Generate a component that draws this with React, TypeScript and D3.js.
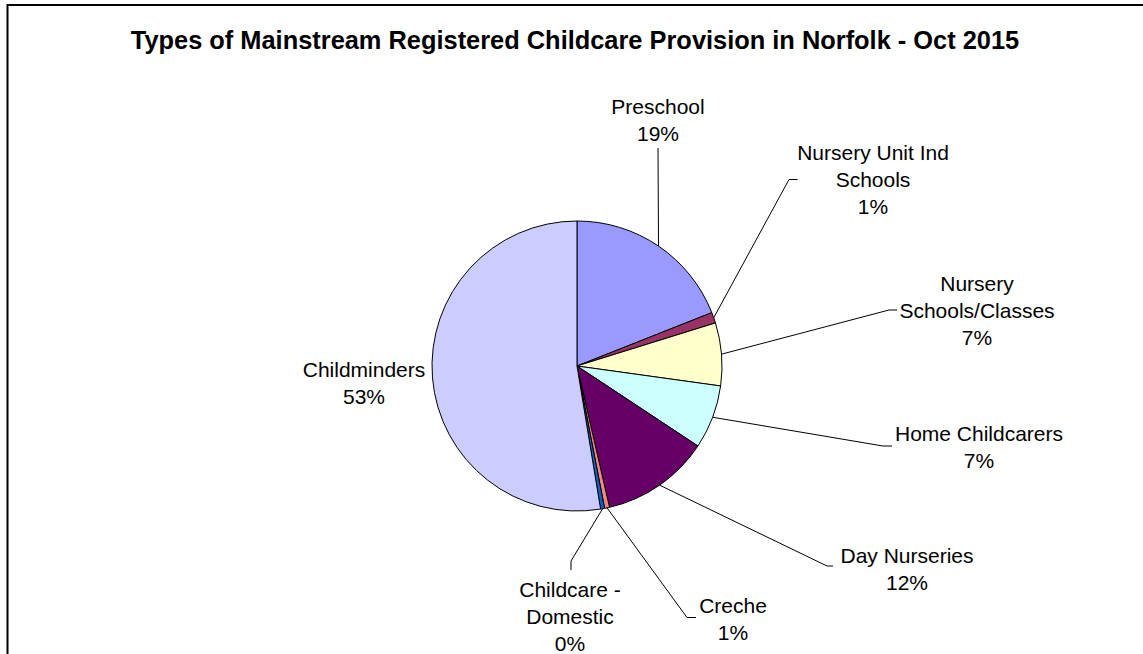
import React from "react";
import * as d3 from "d3";

// ---- data ----
const categories = [
  "Preschool",
  "Nursery Unit Ind Schools",
  "Nursery Schools/Classes",
  "Home Childcarers",
  "Day Nurseries",
  "Creche",
  "Childcare - Domestic",
  "Childminders",
];
const sharePercent = [19.0, 1.2, 7.0, 7.1, 12.1, 0.55, 0.45, 52.6];
const sliceColors = ["#9999FF", "#993366", "#FFFFCC", "#CCFFFF", "#660066", "#FF8080", "#0066CC", "#CCCCFF"];
const titleText = "Types of Mainstream Registered Childcare Provision in Norfolk - Oct 2015";

// ---- layout (positions only) ----
// words per label line, label centre x, first baseline, elbow point, tick end
const labelLayout = [
  { words: [1], x: 658, y: 114, elbow: [658, 148], tick: [658, 148] },
  { words: [3, 1], x: 873, y: 160, elbow: [789, 179.5], tick: [797.5, 179.5] },
  { words: [1, 1], x: 977, y: 291, elbow: [889, 310], tick: [897, 310] },
  { words: [2], x: 979, y: 441, elbow: [883, 446], tick: [892, 446] },
  { words: [2], x: 907, y: 563, elbow: [827, 566], tick: [833, 566] },
  { words: [1], x: 733, y: 613, elbow: [687, 617.5], tick: [696, 617.5] },
  { words: [2, 1], x: 570, y: 596.5, elbow: [571, 561], tick: [571, 570] },
  { words: [1], x: 364, y: 377, elbow: null, tick: null },
];

const W = 1143;
const H = 654;
const CX = 577;
const CY = 366;
const R = 145;
const LINE_H = 27;
const FONT = "'Liberation Sans', Arial, sans-serif";

function splitWords(name: string, counts: number[]): string[] {
  const w = name.split(" ");
  const out: string[] = [];
  let i = 0;
  counts.forEach((c) => {
    out.push(w.slice(i, i + c).join(" "));
    i += c;
  });
  if (i < w.length) out[out.length - 1] += " " + w.slice(i).join(" ");
  return out;
}

export default function App() {
  const data = categories.map((c, i) => ({ name: c, value: sharePercent[i], color: sliceColors[i] }));
  const total = d3.sum(data, (d) => d.value);
  const pie = d3
    .pie<any>()
    .sort(null)
    .value((d) => d.value)
    .startAngle(0)
    .endAngle(2 * Math.PI);
  const arcs = pie(data);
  const arcGen = d3.arc<any>().innerRadius(0).outerRadius(R);

  return (
    <svg
      width={W}
      height={H}
      style={{ position: "fixed", left: 0, top: 0, background: "#fff" }}
      fontFamily={FONT}
    >
      <rect x={0} y={0} width={W} height={H} fill="#fff" />
      <path d={`M7.5,${H + 10} V5 H${W + 10}`} fill="none" stroke="#000" strokeWidth={2} />
      <text x={575} y={49} textAnchor="middle" fontWeight="bold" fontSize={25.4} fill="#000">
        {titleText}
      </text>
      <g transform={`translate(${CX},${CY})`}>
        {arcs.map((a, i) => (
          <path key={i} d={arcGen(a) as string} fill={a.data.color} stroke="#000" strokeWidth={1} strokeLinejoin="round" />
        ))}
      </g>
      {arcs.map((a, i) => {
        const L = labelLayout[i];
        const mid = (a.startAngle + a.endAngle) / 2;
        const px = CX + R * Math.sin(mid);
        const py = CY - R * Math.cos(mid);
        const pct = d3.format(".0f")(Math.round((a.data.value / total) * 100)) + "%";
        const lines = [...splitWords(a.data.name, L.words), pct];
        return (
          <g key={i}>
            {L.elbow && (
              <polyline
                points={`${px},${py} ${L.elbow[0]},${L.elbow[1]} ${L.tick![0]},${L.tick![1]}`}
                fill="none"
                stroke="#000"
                strokeWidth={1}
              />
            )}
            <text textAnchor="middle" fontSize={21} fill="#000">
              {lines.map((ln, j) => (
                <tspan key={j} x={L.x} y={L.y + j * LINE_H}>
                  {ln}
                </tspan>
              ))}
            </text>
          </g>
        );
      })}
    </svg>
  );
}
